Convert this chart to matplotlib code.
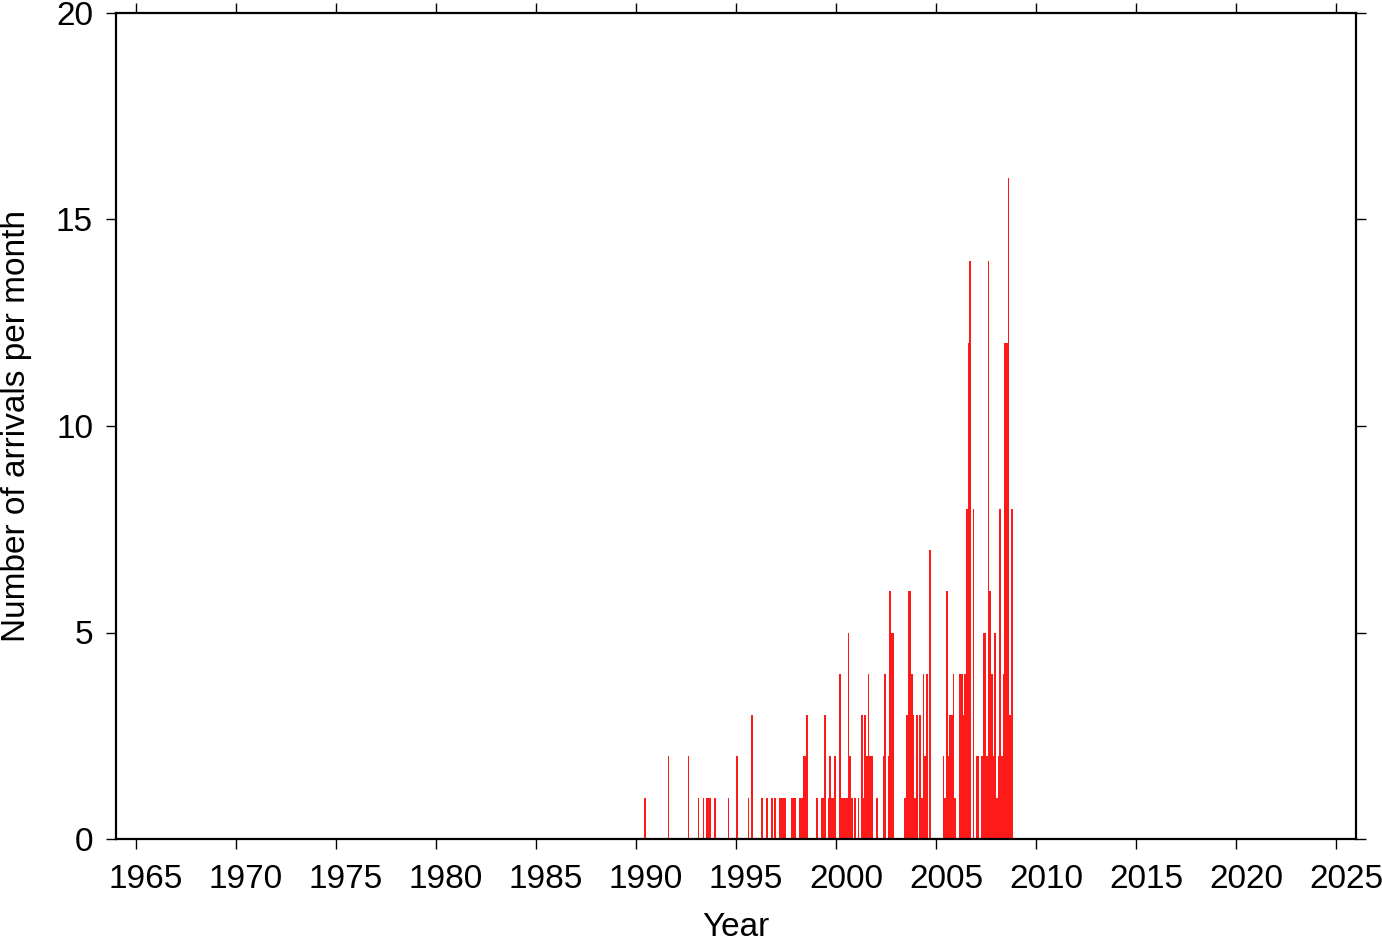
import numpy as np
import matplotlib
matplotlib.use("Agg")
import matplotlib.pyplot as plt

# monthly arrival counts (only non-zero months)
years = [1990, 1991, 1992, 1993, 1993, 1993, 1993, 1993, 1993, 1994,
         1995, 1995, 1995, 1996, 1996, 1996, 1996, 1997, 1997, 1997,
         1997, 1997, 1997, 1997, 1998, 1998, 1998, 1998, 1998, 1999,
         1999, 1999, 1999, 1999, 1999, 1999, 1999, 1999, 2000, 2000,
         2000, 2000, 2000, 2000, 2000, 2000, 2000, 2001, 2001, 2001,
         2001, 2001, 2001, 2001, 2001, 2002, 2002, 2002, 2002, 2002,
         2002, 2002, 2003, 2003, 2003, 2003, 2003, 2003, 2003, 2004,
         2004, 2004, 2004, 2004, 2004, 2004, 2005, 2005, 2005, 2005,
         2005, 2005, 2005, 2005, 2006, 2006, 2006, 2006, 2006, 2006,
         2006, 2006, 2007, 2007, 2007, 2007, 2007, 2007, 2007, 2007,
         2007, 2007, 2007, 2008, 2008, 2008, 2008, 2008, 2008, 2008,
         2008, 2008, 2008]
months = [6, 8, 8, 2, 5, 7, 8, 9, 12, 8,
          1, 8, 10, 4, 7, 10, 12, 3, 4, 5,
          6, 10, 11, 12, 3, 4, 5, 6, 7, 1,
          4, 5, 6, 8, 9, 10, 11, 12, 3, 4,
          5, 6, 7, 8, 9, 10, 12, 2, 4, 5,
          6, 7, 8, 9, 10, 1, 5, 6, 8, 9,
          10, 11, 6, 7, 8, 9, 10, 11, 12, 1,
          3, 4, 5, 6, 7, 9, 5, 6, 7, 8,
          9, 10, 11, 12, 3, 4, 5, 6, 7, 8,
          9, 11, 1, 2, 4, 5, 6, 7, 8, 9,
          10, 11, 12, 1, 2, 3, 4, 5, 6, 7,
          8, 9, 10]
counts = [1, 2, 2, 1, 1, 1, 1, 1, 1, 1,
          2, 1, 3, 1, 1, 1, 1, 1, 1, 1,
          1, 1, 1, 1, 1, 1, 2, 2, 3, 1,
          1, 1, 3, 1, 2, 1, 1, 2, 4, 1,
          1, 1, 1, 5, 2, 1, 1, 1, 3, 1,
          3, 2, 4, 2, 2, 1, 2, 4, 2, 6,
          5, 5, 1, 3, 6, 6, 4, 3, 1, 3,
          3, 1, 4, 2, 4, 7, 2, 1, 6, 2,
          3, 3, 4, 1, 4, 4, 3, 4, 8, 12,
          14, 8, 2, 2, 2, 5, 5, 2, 14, 6,
          4, 2, 5, 1, 2, 8, 2, 4, 12, 12,
          16, 3, 8]

x_ticks = [1965, 1970, 1975, 1980, 1985, 1990, 1995, 2000, 2005, 2010, 2015, 2020, 2025]
y_ticks = [0, 5, 10, 15, 20]

plt.rcParams['font.family'] = ['Liberation Sans', 'DejaVu Sans']
FS = 24

t = np.array(years) + (np.array(months) - 0.5) / 12.0

fig = plt.figure(figsize=(13.82, 9.42), dpi=100)
ax = fig.add_axes([116 / 1382, 1 - 839 / 942, 1240 / 1382, 826 / 942])
ax.bar(t, counts, width=0.07, color='#ff1a1a', linewidth=0)

ax.set_xlim(1964, 2026)
ax.set_ylim(0, 20)
# ticks at the start of each year, year labels centred in the year interval
ax.set_xticks(x_ticks)
ax.set_xticklabels([])
ax.set_xticks([y + 0.5 for y in x_ticks], minor=True)
ax.set_xticklabels([str(y) for y in x_ticks], minor=True)
ax.set_yticks(y_ticks)
ax.tick_params(axis='both', which='major', direction='out', length=7.5, width=1,
               labelsize=FS, top=True, right=True, color='black')
ax.tick_params(axis='x', which='minor', length=0, labelsize=FS, pad=18)
ax.tick_params(axis='y', pad=9)
for s in ax.spines.values():
    s.set_linewidth(1.6)

ax.set_xlabel('Year', fontsize=FS, labelpad=12.5)
ax.set_ylabel('Number of arrivals per month', fontsize=FS, labelpad=17)

fig.savefig('out.png', dpi=100)
